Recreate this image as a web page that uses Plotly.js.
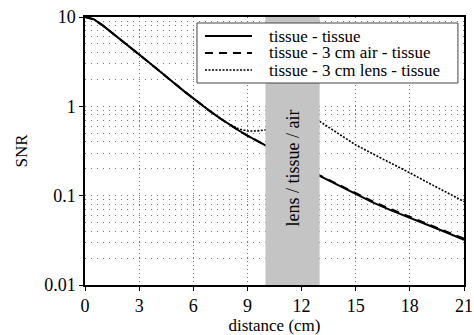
<!DOCTYPE html>
<html>
<head>
<meta charset="utf-8">
<script src="https://cdn.plot.ly/plotly-3.0.1.min.js"></script>
<style>html,body{margin:0;padding:0;background:#fff;}#chart{width:474px;height:335px;}</style>
</head>
<body>
<div id="chart"></div>
<script>
// distance (cm)
const distance = [0,0.5,1,1.5,2,2.5,3,3.5,4,4.5,5,5.5,6,6.5,7,7.5,8,8.5,9,9.5,10,
                  13,14,15,16,17,18,19,20,21];
// SNR values
const snrTissue = [10,9.4,8.0,6.6,5.5,4.6,3.8,3.15,2.62,2.17,1.78,1.47,1.22,1.02,0.86,0.73,0.625,0.54,0.47,0.415,0.366,
                   0.167,0.132,0.103,0.083,0.068,0.056,0.047,0.039,0.032];
const snrAir    = [10,9.4,8.0,6.6,5.5,4.6,3.8,3.15,2.62,2.17,1.78,1.47,1.22,1.02,0.86,0.73,0.625,0.54,0.47,0.415,0.366,
                   0.169,0.134,0.105,0.085,0.070,0.058,0.048,0.040,0.033];
const snrLens   = [10,9.4,8.0,6.6,5.5,4.6,3.8,3.15,2.62,2.17,1.78,1.47,1.22,1.02,0.86,0.73,0.63,0.56,0.53,0.53,0.545,
                   0.68,0.50,0.37,0.29,0.23,0.18,0.14,0.11,0.086];
const seriesNames = ['tissue - tissue','tissue - 3 cm air - tissue','tissue - 3 cm lens - tissue'];
const xTicks = [0,3,6,9,12,15,18,21];
const yTickVals = [0.01,0.1,1,10];
const yTickText = ['0.01','0.1','1','10'];
const bandRange = [10,13];
const bandLabel = 'lens / tissue / air';

(function(){
  var fam = 'Liberation Serif';
  var styles = [
    {color:'#000', width:2, dash:'solid'},
    {color:'#000', width:2, dash:'8px,6px'},
    {color:'#000', width:1.6, dash:'2px,1.5px'}
  ];
  var ys = [snrTissue, snrAir, snrLens];
  var traces = ys.map(function(y, i){
    return {x:distance, y:y, name:seriesNames[i], mode:'lines', line:styles[i], showlegend:false};
  });
  var gridColor = '#777';
  // legend box geometry (paper fractions)
  var lg = {x0:0.2955, x1:0.984, y0:0.7537, y1:0.9776, sx0:0.3166, sx1:0.4406, tx:0.480, rows:[0.929, 0.866, 0.802]};
  var shapes = [
    {type:'rect', xref:'x', yref:'paper', x0:bandRange[0], x1:bandRange[1], y0:0, y1:1,
     fillcolor:'#c4c4c4', line:{width:0}, layer:'above'},
    {type:'rect', xref:'paper', yref:'paper', x0:lg.x0, x1:lg.x1, y0:lg.y0, y1:lg.y1,
     fillcolor:'#fff', line:{color:'#444', width:1}, layer:'above'}
  ];
  var annotations = [
    {xref:'x', yref:'paper', x:(bandRange[0]+bandRange[1])/2, y:0.437, text:bandLabel, textangle:-90,
     showarrow:false, font:{family:fam, size:18, color:'#000'}}
  ];
  seriesNames.forEach(function(nm, i){
    shapes.push({type:'line', xref:'paper', yref:'paper', x0:lg.sx0, x1:lg.sx1, y0:lg.rows[i], y1:lg.rows[i],
                 line:styles[i], layer:'above'});
    annotations.push({xref:'paper', yref:'paper', x:lg.tx, y:lg.rows[i], xanchor:'left', yanchor:'middle',
                      text:nm, showarrow:false, font:{family:fam, size:17, color:'#000'}});
  });
  var layout = {
    width:474, height:335,
    margin:{l:85, r:10, t:17, b:50},
    paper_bgcolor:'#fff', plot_bgcolor:'#fff',
    font:{family:fam, size:17, color:'#000'},
    showlegend:false,
    xaxis:{range:[0,21], tickvals:xTicks, ticktext:xTicks.map(String), ticks:'outside', ticklen:4, tickcolor:'#000',
           showline:true, linecolor:'#000', linewidth:1.5, mirror:true, zeroline:false,
           showgrid:true, gridcolor:gridColor, gridwidth:1, griddash:'1px,3px',
           tickfont:{family:fam, size:18, color:'#000'},
           title:{text:'distance (cm)', font:{family:fam, size:17, color:'#000'}, standoff:6}},
    yaxis:{type:'log', range:[-2,1], tickvals:yTickVals, ticktext:yTickText, ticks:'outside', ticklen:4, tickcolor:'#000',
           showline:true, linecolor:'#000', linewidth:1.5, mirror:true, zeroline:false,
           showgrid:true, gridcolor:gridColor, gridwidth:1, griddash:'1px,5px',
           tickfont:{family:fam, size:18, color:'#000'},
           minor:{dtick:'D1', showgrid:true, gridcolor:gridColor, gridwidth:1, griddash:'1px,5px', ticks:''},
           title:{text:'SNR', font:{family:fam, size:17, color:'#000'}, standoff:12}},
    shapes:shapes,
    annotations:annotations
  };
  Plotly.newPlot('chart', traces, layout, {displayModeBar:false});
})();
</script>
</body>
</html>
